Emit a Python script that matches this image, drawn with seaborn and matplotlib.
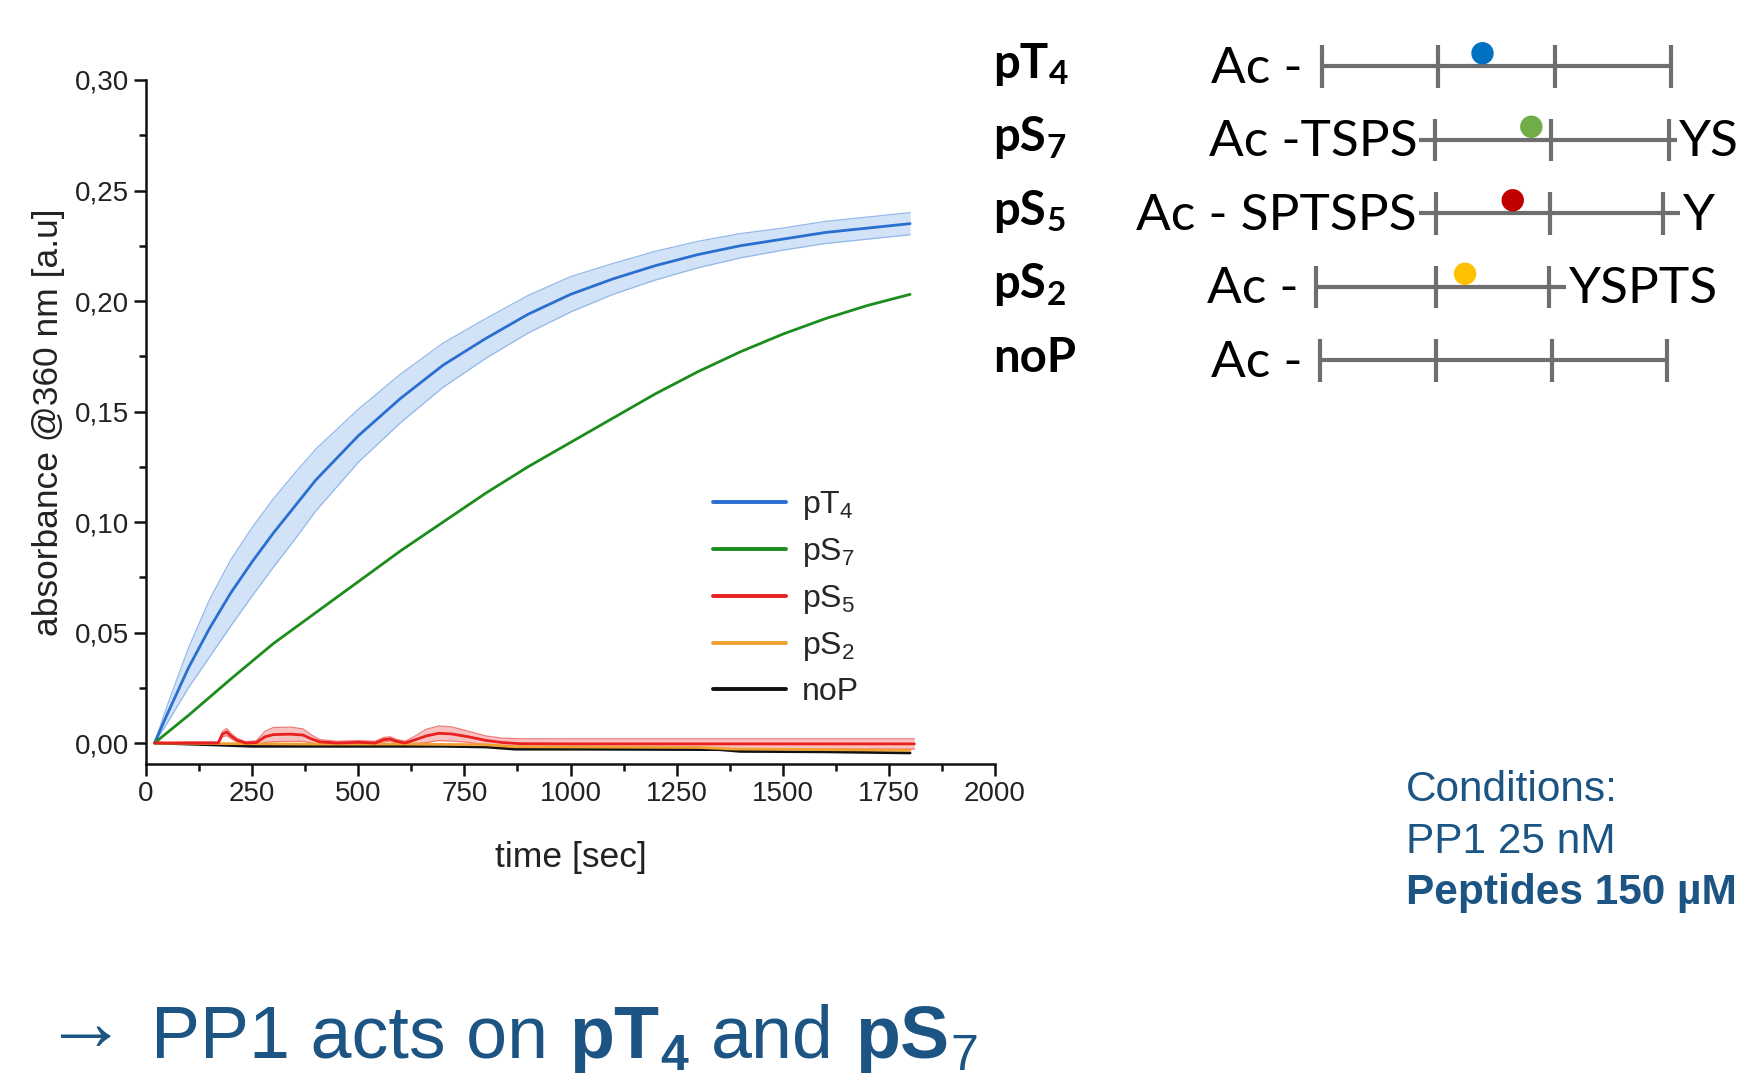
import numpy as np
import pandas as pd
import matplotlib
matplotlib.use("Agg")
import matplotlib.pyplot as plt
from matplotlib.lines import Line2D
from matplotlib.ticker import AutoMinorLocator
import seaborn as sns

# ---------------- data ----------------
time_pT4 = [20, 50, 100, 150, 200, 250, 300, 350, 400, 450, 500, 600, 700, 800,
            900, 1000, 1100, 1200, 1300, 1400, 1500, 1600, 1700, 1800]
pT4_mean = [0.000, 0.013, 0.034, 0.052, 0.068, 0.082, 0.095, 0.107, 0.119, 0.129,
            0.139, 0.156, 0.171, 0.183, 0.194, 0.203, 0.210, 0.216, 0.221, 0.225,
            0.228, 0.231, 0.233, 0.235]
pT4_err = [0.000, 0.004, 0.009, 0.013, 0.015, 0.0155, 0.0155, 0.015, 0.014, 0.013,
           0.012, 0.011, 0.010, 0.009, 0.0085, 0.008, 0.007, 0.0065, 0.006, 0.0055,
           0.005, 0.005, 0.005, 0.005]

time_pS7 = [20, 100, 200, 300, 400, 500, 600, 700, 800, 900, 1000, 1100, 1200,
            1300, 1400, 1500, 1600, 1700, 1800]
pS7_mean = [0.000, 0.0125, 0.029, 0.045, 0.059, 0.073, 0.087, 0.100, 0.113, 0.125,
            0.136, 0.147, 0.158, 0.168, 0.177, 0.185, 0.192, 0.198, 0.203]

time_pS5 = [20, 100, 170, 180, 190, 200, 215, 235, 260, 280, 300, 340, 370, 390,
            410, 450, 500, 540, 560, 575, 590, 610, 630, 660, 690, 720, 760, 800,
            840, 880, 1000, 1200, 1400, 1600, 1810]
pS5_mean = [0.0, 0.0, 0.0, 0.0040, 0.0050, 0.0032, 0.0012, 0.0, 0.0002, 0.0028,
            0.0038, 0.0040, 0.0036, 0.0018, 0.0005, 0.0, 0.0003, 0.0, 0.0015, 0.0018,
            0.0008, 0.0, 0.0012, 0.0032, 0.0044, 0.0041, 0.0028, 0.0012, 0.0002,
            -0.0003, -0.0004, -0.0004, -0.0004, -0.0004, -0.0004]
pS5_err = [0.0, 0.0005, 0.0005, 0.0012, 0.0016, 0.0012, 0.0008, 0.0006, 0.0008,
           0.0025, 0.0032, 0.0032, 0.0028, 0.0018, 0.0010, 0.0008, 0.0008, 0.0008,
           0.0010, 0.0010, 0.0008, 0.0008, 0.0015, 0.0030, 0.0033, 0.0032, 0.0025,
           0.0020, 0.0020, 0.0022, 0.0023, 0.0023, 0.0023, 0.0023, 0.0023]

time_pS2 = [20, 200, 400, 600, 800, 870, 1000, 1300, 1380, 1600, 1800]
pS2_mean = [0.0, -0.0003, -0.0005, -0.0005, -0.0008, -0.0017, -0.0018, -0.0020,
            -0.0027, -0.0030, -0.0033]

time_noP = [20, 150, 250, 300, 500, 700, 800, 870, 1000, 1350, 1400, 1600, 1800]
noP_mean = [0.0, -0.0008, -0.0015, -0.0015, -0.0015, -0.0015, -0.0018, -0.0028,
            -0.0028, -0.0030, -0.0038, -0.0040, -0.0045]

legend_keys = ["pT4", "pS7", "pS5", "pS2", "noP"]
legend_labels = ["pT$_4$", "pS$_7$", "pS$_5$", "pS$_2$", "noP"]
draw_order = ["pT4", "pS7", "noP", "pS2", "pS5"]

x_ticks = [0, 250, 500, 750, 1000, 1250, 1500, 1750, 2000]
y_ticks = [0.00, 0.05, 0.10, 0.15, 0.20, 0.25, 0.30]
y_tick_labels = ["0,00", "0,05", "0,10", "0,15", "0,20", "0,25", "0,30"]

# peptide schematic (positions in residue-block units)
pep_main = ["pT", "pS", "pS", "pS", "noP"]
pep_sub = ["4", "7", "5", "2", ""]
pep_prefix = ["Ac -", "Ac -TSPS", "Ac - SPTSPS", "Ac -", "Ac -"]
pep_prefix_end = [-0.17, 0.82, 0.81, -0.2, -0.17]
pep_suffix = ["", "YS", "Y", "YSPTS", ""]
pep_ticks = [[0, 1, 2, 3], [0.97, 1.97, 2.98], [0.98, 1.96, 2.93],
             [-0.05, 0.98, 1.95], [-0.02, 0.98, 1.98, 2.97]]
pep_line = [[0, 3], [0.83, 3.05], [0.83, 3.08], [-0.05, 2.1], [-0.02, 2.97]]
pep_dot = [1.38, 1.80, 1.64, 1.23, None]
pep_dot_color = ["#0070c0", "#70ad47", "#c00000", "#ffc000", None]

cond_lines = ["Conditions:", "PP1 25 nM", "Peptides 150 µM"]

# ---------------- style ----------------
sns.set_style("ticks")
plt.rcParams["font.family"] = ["Liberation Sans", "DejaVu Sans"]
plt.rcParams["mathtext.fontset"] = "custom"
plt.rcParams["mathtext.rm"] = "Liberation Sans"
plt.rcParams["mathtext.it"] = "Liberation Sans:italic"
plt.rcParams["mathtext.bf"] = "Liberation Sans:bold"

colors = {"pT4": "#2a6fd0", "pS7": "#1c8c1c", "pS5": "#e8201e",
          "pS2": "#f0a030", "noP": "#111111"}
TXT = "#1c5584"
W, H = 1739, 1079

fig = plt.figure(figsize=(W / 100, H / 100), dpi=100)
fig.patch.set_facecolor("white")

ax = fig.add_axes([146 / W, 1 - 764 / H, (995 - 146) / W, (764 - 80) / H])

frames = []
for key, t, v in [("pT4", time_pT4, pT4_mean), ("pS7", time_pS7, pS7_mean),
                  ("pS5", time_pS5, pS5_mean), ("pS2", time_pS2, pS2_mean),
                  ("noP", time_noP, noP_mean)]:
    frames.append(pd.DataFrame({"time": t, "abs": v, "peptide": key}))
df = pd.concat(frames, ignore_index=True)

# error bands
m = np.array(pT4_mean); e = np.array(pT4_err)
ax.fill_between(time_pT4, m - e, m + e, color="#d3e3f7", lw=0, zorder=1)
ax.plot(time_pT4, m + e, color="#94b8ea", lw=0.9, zorder=1.5)
ax.plot(time_pT4, m - e, color="#94b8ea", lw=0.9, zorder=1.5)

m5 = np.array(pS5_mean); e5 = np.array(pS5_err)
ax.fill_between(time_pS5, m5 - e5, m5 + e5, color="#f7a9a9", alpha=0.7, lw=0, zorder=1.8)
ax.plot(time_pS5, m5 + e5, color="#f07a7a", lw=0.9, zorder=1.9)
ax.plot(time_pS5, m5 - e5, color="#f07a7a", lw=0.9, zorder=1.9)

sns.lineplot(data=df, x="time", y="abs", hue="peptide", hue_order=draw_order,
             palette=colors, estimator=None, sort=False, linewidth=2.0,
             legend=False, ax=ax, zorder=3)

ax.set_xlim(0, 2000)
ax.set_ylim(-0.0095, 0.30)
ax.set_xticks(x_ticks)
ax.set_yticks(y_ticks)
ax.set_yticklabels(y_tick_labels)
ax.xaxis.set_minor_locator(AutoMinorLocator(2))
ax.yaxis.set_minor_locator(AutoMinorLocator(2))
ax.tick_params(which="major", direction="out", length=8.5, width=1.8,
               labelsize=20, labelcolor="#222222", color="#111111", pad=4)
ax.tick_params(which="minor", direction="out", length=5, width=1.8, color="#111111")
for s in ["top", "right"]:
    ax.spines[s].set_visible(False)
for s in ["left", "bottom"]:
    ax.spines[s].set_linewidth(1.8)
    ax.spines[s].set_color("#111111")
ax.set_xlabel("time [sec]", fontsize=25.5, color="#222222", labelpad=24)
ax.set_ylabel("absorbance @360 nm [a.u]", fontsize=25.5, color="#222222", labelpad=7)
ax.set_facecolor("white")

handles = [Line2D([0], [0], color=colors[k], lw=2.8) for k in legend_keys]
ax.legend(handles, legend_labels, loc="upper left",
          bbox_to_anchor=(713 / W, 1 - 489 / H), bbox_transform=fig.transFigure,
          frameon=False, fontsize=23, handlelength=2.28, handletextpad=0.5,
          labelspacing=0.44, borderpad=0, borderaxespad=0)

# ---------------- peptide schematic ----------------
seg = 116.3
rowh = 73.5
x0, y0 = 1322, 66.5
xl, xr = -3.0, 3.55
yt, yb = -0.8, 4.6
sch = fig.add_axes([(x0 + xl * seg) / W, 1 - (y0 + yb * rowh) / H,
                    (xr - xl) * seg / W, (yb - yt) * rowh / H])
sch.set_xlim(xl, xr)
sch.set_ylim(yb, yt)
sch.axis("off")
renderer = fig.canvas.get_renderer()
GRAY = "#6e6e6e"
for i in range(len(pep_main)):
    sch.plot(pep_line[i], [i, i], color=GRAY, lw=3.0, solid_capstyle="butt", zorder=2)
    sch.vlines(pep_ticks[i], i - 0.29, i + 0.29, color=GRAY, lw=3.0, zorder=2)
    if pep_dot[i] is not None:
        sch.scatter([pep_dot[i]], [i - 0.18], s=260, color=pep_dot_color[i],
                    edgecolors="none", zorder=3)
    sch.text(pep_prefix_end[i], i + 0.22, pep_prefix[i], ha="right", va="baseline",
             fontsize=37, family="Lato", color="black")
    if pep_suffix[i]:
        sch.text(pep_line[i][1] + 0.02, i + 0.22, pep_suffix[i], ha="left", va="baseline",
                 fontsize=37, family="Lato", color="black")
    t = sch.text(-2.83, i + 0.15, pep_main[i], ha="left", va="baseline",
                 fontsize=34, family="Lato", fontweight="bold", color="black")
    if pep_sub[i]:
        bb = t.get_window_extent(renderer)
        xs = sch.transData.inverted().transform((bb.x1 + 1, 0))[0]
        sch.text(xs, i + 0.24, pep_sub[i], ha="left", va="baseline",
                 fontsize=24, family="Lato", fontweight="bold", color="black")

# ---------------- conditions ----------------
cond_base = [801, 853, 904]
for j, line in enumerate(cond_lines):
    fig.text(1406 / W, 1 - cond_base[j] / H, line, fontsize=30.5, color=TXT,
             va="baseline", ha="left", fontweight="bold" if j == 2 else "normal")

# ---------------- bottom statement ----------------
runs = [("→", 60, "normal", -8, 24), ("PP1 acts on", 53, "normal", 0, 21),
        ("pT", 53, "bold", 0, 1), ("4", 36, "bold", 12, 23),
        ("and", 53, "normal", 0, 21), ("pS", 53, "bold", 0, 1),
        ("7", 36, "normal", 12, 0)]
xpos = 44
base = 1058
for s, size, wt, dy, gap in runs:
    tt = fig.text(xpos / W, 1 - (base + dy) / H, s, fontsize=size, fontweight=wt,
                  color=TXT, va="baseline", ha="left")
    bb = tt.get_window_extent(renderer)
    xpos = bb.x1 + gap

fig.savefig("out.png", dpi=100, facecolor="white")
